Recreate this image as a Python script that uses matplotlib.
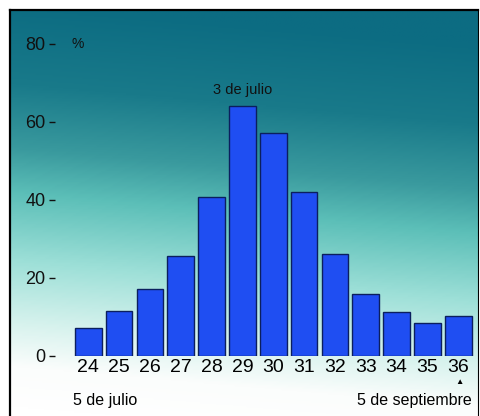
import matplotlib.pyplot as plt
import numpy as np
from matplotlib.colors import LinearSegmentedColormap

# ---------------------------------------------------------------------
# Data
# ---------------------------------------------------------------------

weeks = ["24", "25", "26", "27", "28", "29", "30", "31", "32", "33", "34", "35", "36"]
percent = [7.1, 11.6, 17.2, 25.7, 40.7, 64.1, 57.1, 42.1, 26.1, 15.9, 11.4, 8.4, 10.3]
y_ticks = [0, 20, 40, 60, 80]

plt.rcParams["font.family"] = ["Liberation Sans", "DejaVu Sans"]

fig = plt.figure(figsize=(4.8, 4.16), dpi=100)

# background gradient panel, a bit diagonal (right side darker for longer)
bg = fig.add_axes([10 / 480, 0, 468 / 480, 406 / 416])
cmap = LinearSegmentedColormap.from_list(
    "bg",
    [(0.0, "#0c6c82"), (0.2, "#197a8a"), (0.36, "#3a9a9e"), (0.47, "#5cbfb8"),
     (0.64, "#9ee0d8"), (0.79, "#d6f2ed"), (0.9, "#fbfdfc"), (1.0, "#ffffff")],
)
yy, xx = np.mgrid[0:1:300j, 0:1:200j]
t = np.clip(yy - 0.1 * xx + 0.02, 0, 1)
bg.imshow(t, aspect="auto", cmap=cmap, vmin=0, vmax=1, extent=[0, 1, 1, 0])
bg.set_xlim(0, 1)
bg.set_ylim(1, 0)
bg.set_xticks([])
bg.set_yticks([])
bg.spines["bottom"].set_visible(False)
bg.spines["left"].set_linewidth(1.6)
bg.spines["top"].set_linewidth(1.6)
bg.spines["right"].set_linewidth(0.8)

# main chart
ax = fig.add_axes([55 / 480, 60 / 416, 422 / 480, 331.5 / 416])
ax.patch.set_alpha(0)
x = np.arange(len(weeks))
ax.bar(x, percent, width=0.865, color="#1f4ef2", edgecolor="#0b1f5e", linewidth=1.0)

ax.set_xlim(-1.08, 12.608)
ax.set_ylim(0, 85)
ax.set_xticks(x)
ax.set_xticklabels(weeks, fontsize=14)
ax.set_yticks(y_ticks)
ax.set_yticklabels([str(v) for v in y_ticks], fontsize=13)
ax.tick_params(axis="x", length=0, pad=2)
ax.tick_params(axis="y", length=4, width=1.0, direction="out", pad=3, colors="#111111")
for s in ax.spines.values():
    s.set_visible(False)

ax.text(-0.55, 80, "%", fontsize=10, va="center", ha="left", color="#111111")
ax.text(5, 68.2, "3 de julio", fontsize=10.5, ha="center", va="center", color="#111111")

# bottom annotations
fig.text(73 / 480, 1 - 401 / 416, "5 de julio", fontsize=11.5, ha="left", va="center")
fig.text(472 / 480, 1 - 401 / 416, "5 de septiembre", fontsize=11.5, ha="right", va="center")
fig.text(459 / 480, 1 - 383 / 416, "\u25b2", fontsize=6, ha="center", va="center")

fig.savefig("out.png", dpi=100)
